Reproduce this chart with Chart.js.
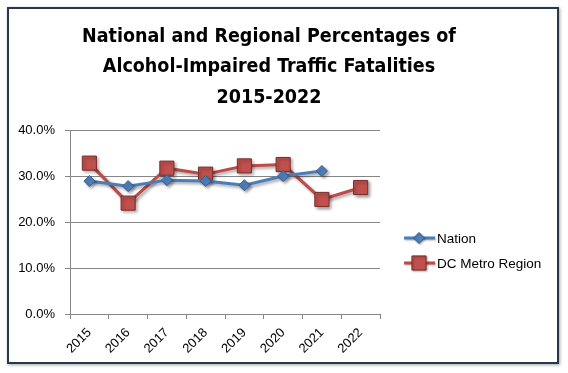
<!DOCTYPE html>
<html>
<head>
<meta charset="utf-8">
<script src="https://cdn.jsdelivr.net/npm/chart.js@4.4.0/dist/chart.umd.min.js"></script>
<style>
  html, body { margin: 0; padding: 0; background: #fff; }
  #wrap { position: relative; width: 568px; height: 373px; }
  #frame {
    position: absolute; left: 7px; top: 7px; width: 548px; height: 353px;
    border: 2px solid #24394d;
    box-shadow: 1px 1px 3px rgba(0,0,0,0.35);
  }
  canvas { position: absolute; left: 0; top: 0; }
</style>
</head>
<body>
<div id="wrap">
  <div id="frame"></div>
  <canvas id="chart" width="568" height="373"></canvas>
</div>
<script>
// datos
const years = ['2015', '2016', '2017', '2018', '2019', '2020', '2021', '2022'];
const nation = [28.9, 27.8, 29.1, 28.9, 28.0, 30.0, 31.1, null];
const dcMetro = [32.8, 24.1, 31.7, 30.4, 32.2, 32.5, 24.9, 27.5];
const titleLines = ['National and Regional Percentages of', 'Alcohol-Impaired Traffic Fatalities', '2015-2022'];
const yTicks = [0, 10, 20, 30, 40];

const seriesNames = ['Nation', 'DC Metro Region'];
const lineColors = ['#4a7ebb', '#be4b48'];
const markerFill = ['#4f81bd', '#c0504d'];
const markerBorder = ['#385d8a', '#7a2d2b'];
const markerRadius = [5.5, 10];

// Sombra suave para líneas y marcadores
const shadowPlugin = {
  id: 'shadow',
  beforeDatasetsDraw(chart) {
    const ctx = chart.ctx;
    ctx.save();
    ctx.shadowColor = 'rgba(0,0,0,0.35)';
    ctx.shadowBlur = 3;
    ctx.shadowOffsetX = 2;
    ctx.shadowOffsetY = 2;
  },
  afterDatasetsDraw(chart) {
    chart.ctx.restore();
  }
};

// Título y leyenda dibujados a mano para colocarlos como en la imagen
const decorPlugin = {
  id: 'decor',
  afterDraw(chart) {
    const ctx = chart.ctx;
    ctx.save();
    ctx.fillStyle = '#000';
    ctx.textAlign = 'center';
    ctx.textBaseline = 'alphabetic';
    ctx.font = 'bold 19.5px "DejaVu Sans Condensed", "Liberation Sans Narrow", sans-serif';
    const baselines = [42, 72, 103];
    titleLines.forEach((t, i) => ctx.fillText(t, 269, baselines[i]));

    // leyenda
    const legendY = [238, 263];
    ctx.font = '13.5px "Liberation Sans", sans-serif';
    ctx.textAlign = 'left';
    ctx.textBaseline = 'middle';
    chart.data.datasets.forEach((ds, i) => {
      const y = legendY[i];
      ctx.save();
      ctx.shadowColor = 'rgba(0,0,0,0.3)';
      ctx.shadowBlur = 2;
      ctx.shadowOffsetX = 1;
      ctx.shadowOffsetY = 1;
      ctx.strokeStyle = ds.borderColor;
      ctx.lineWidth = 3;
      ctx.beginPath();
      ctx.moveTo(404, y);
      ctx.lineTo(435, y);
      ctx.stroke();
      ctx.fillStyle = ds.pointBackgroundColor;
      ctx.strokeStyle = ds.pointBorderColor;
      ctx.lineWidth = 1;
      Chart.helpers.drawPoint(ctx, {
        pointStyle: ds.pointStyle, rotation: 0, borderWidth: 1, radius: ds.pointRadius
      }, 419, y);
      ctx.restore();
      ctx.fillStyle = '#000';
      ctx.fillText(ds.label, 437, y + 1);
    });
    ctx.restore();
  }
};

const datasets = [nation, dcMetro].map((vals, i) => ({
  label: seriesNames[i],
  data: vals,
  borderColor: lineColors[i],
  borderWidth: 3,
  pointStyle: i === 0 ? 'rectRot' : 'rect',
  pointRadius: markerRadius[i],
  pointBackgroundColor: markerFill[i],
  pointBorderColor: markerBorder[i],
  pointBorderWidth: 1,
  tension: 0,
  fill: false,
  spanGaps: false
}));

new Chart(document.getElementById('chart'), {
  type: 'line',
  data: { labels: years, datasets: datasets },
  options: {
    responsive: false,
    animation: false,
    layout: { padding: { top: 130, right: 188, bottom: 9, left: 0 } },
    plugins: {
      legend: { display: false },
      title: { display: false },
      tooltip: { enabled: false }
    },
    scales: {
      x: {
        offset: true,
        grid: { offset: true, drawOnChartArea: false, drawTicks: true, tickLength: 5, color: '#868686' },
        border: { color: '#868686', width: 1 },
        ticks: {
          maxRotation: 45, minRotation: 45, padding: 6,
          color: '#000',
          font: { family: '"Liberation Sans", sans-serif', size: 13 }
        },
        afterFit(axis) { axis.height = 50; }
      },
      y: {
        min: 0, max: 40,
        afterBuildTicks(axis) { axis.ticks = yTicks.map(v => ({ value: v })); },
        grid: { color: '#868686', tickLength: 5 },
        border: { color: '#868686', width: 1 },
        ticks: {
          color: '#000',
          padding: 10,
          font: { family: '"Liberation Sans", sans-serif', size: 13 },
          callback: v => v.toFixed(1) + '%'
        },
        afterFit(axis) { axis.width = 70; }
      }
    }
  },
  plugins: [shadowPlugin, decorPlugin]
});
</script>
</body>
</html>
